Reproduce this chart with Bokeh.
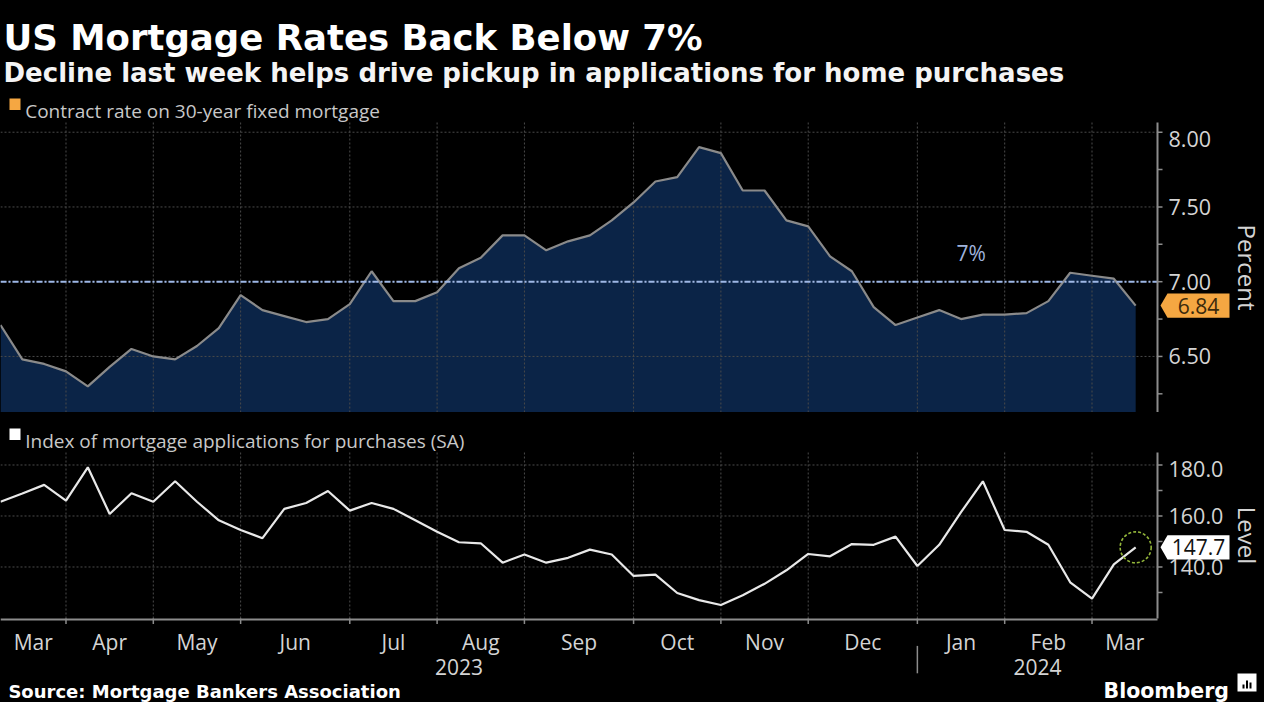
import numpy as np
import pandas as pd
from bokeh.plotting import figure
from bokeh.models import Range1d, ColumnDataSource
from bokeh.layouts import column
from bokeh.core.properties import value
from bokeh.embed import file_html
from bokeh.resources import INLINE

# ---------------- data ----------------
week_dates = pd.date_range("2023-03-17", periods=53, freq="7D")

contract_rate = [6.71, 6.48, 6.45, 6.40, 6.30, 6.43, 6.55, 6.50, 6.48, 6.57,
                 6.69, 6.91, 6.81, 6.77, 6.73, 6.75, 6.85, 7.07, 6.87, 6.87,
                 6.93, 7.09, 7.16, 7.31, 7.31, 7.21, 7.27, 7.31, 7.41, 7.53,
                 7.67, 7.70, 7.90, 7.86, 7.61, 7.61, 7.41, 7.37, 7.17, 7.07,
                 6.83, 6.71, 6.76, 6.81, 6.75, 6.78, 6.78, 6.79, 6.87, 7.06,
                 7.04, 7.02, 6.84]

purchase_index = [165.6, 168.8, 172.2, 166.0, 179.1, 160.8, 168.9, 165.6, 173.6, 165.6,
                  158.3, 154.5, 151.3, 162.8, 165.1, 169.8, 162.1, 165.1, 162.8, 158.3,
                  153.8, 149.7, 149.3, 141.7, 144.9, 141.7, 143.6, 146.8, 144.9, 136.5,
                  137.0, 129.8, 127.0, 125.1, 128.9, 133.4, 138.7, 145.1, 144.2, 149.0,
                  148.7, 151.9, 140.4, 148.7, 161.5, 173.6, 154.5, 153.8, 148.7, 134.0,
                  127.6, 141.0, 147.7]

rate_ticks = [6.5, 7.0, 7.5, 8.0]
rate_minor = [6.25, 6.75, 7.25, 7.75]
index_ticks = [140.0, 160.0, 180.0]
index_minor = [130.0, 150.0, 170.0]
threshold = 7.0
threshold_label = "7%"

title = "US Mortgage Rates Back Below 7%"
subtitle = "Decline last week helps drive pickup in applications for home purchases"
legend_rate = "Contract rate on 30-year fixed mortgage"
legend_index = "Index of mortgage applications for purchases (SA)"
rate_axis_label = "Percent"
index_axis_label = "Level"
source_text = "Source: Mortgage Bankers Association"
brand_text = "Bloomberg"

# ---------------- derived ----------------
n = len(week_dates)
xs = np.arange(n)
grid_idx = [i for i in range(1, n) if week_dates[i].month != week_dates[i - 1].month]
bounds = [0] + grid_idx + [n]
month_centers = [(a + b) / 2 for a, b in zip(bounds[:-1], bounds[1:])]
month_names = [week_dates[a].strftime("%b") for a in bounds[:-1]]
year_idx = [i for i in grid_idx if week_dates[i].year != week_dates[i - 1].year]
ybounds = [0] + year_idx + [n]
year_centers = [(a + b) / 2 for a, b in zip(ybounds[:-1], ybounds[1:])]
year_names = [str(week_dates[a].year) for a in ybounds[:-1]]

# ---------------- layout constants ----------------
W = 1264
FRAME_W = 1157                      # pixel position of the value axis
XMAX = n * W / FRAME_W
KX = XMAX / W                       # data units per pixel along x
H_HEAD = 122                        # title, subtitle, first legend
H_LEG = 36                          # legend band above the lower panel
H_TOP, H_SEP, H_BOT, H_FOOT = 290, 4, 166, 84

BG = "#000000"
GRID = "#4a4a4a"
AXIS = "#8c8c8c"
TXT = "#d4d4d4"
LEG = "#c8c8c8"
NAVY = "#0b2447"
ORANGE = "#f5a742"
REG_FONT = "Open Sans"
BOLD_FONT = "DejaVu Sans"

shared_x = Range1d(0, XMAX)


def blank(h, x_range, y_range):
    f = figure(width=W, height=h, x_range=x_range, y_range=y_range,
               x_axis_location=None, y_axis_location=None, toolbar_location=None,
               output_backend="svg", min_border_left=0, min_border_right=0,
               min_border_top=0, min_border_bottom=0, background_fill_color=BG,
               border_fill_color=BG, outline_line_color=None)
    f.xgrid.visible = False
    f.ygrid.visible = False
    return f


def grids(f, ylo, yhi, ticks):
    f.segment(x0=[0] * len(ticks), x1=[n] * len(ticks), y0=ticks, y1=ticks,
              line_color=GRID, line_dash="2 2", line_width=1)
    f.segment(x0=grid_idx, x1=grid_idx, y0=[ylo] * len(grid_idx), y1=[yhi] * len(grid_idx),
              line_color=GRID, line_dash="2 2", line_width=1)


def right_axis(f, ky, ylo, yhi, ticks, minor, fmt, label):
    f.segment(x0=[n], x1=[n], y0=[ylo], y1=[yhi], line_color=AXIS, line_width=2)
    allt = list(ticks) + list(minor)
    f.segment(x0=[n] * len(allt), x1=[n + 5 * KX] * len(allt), y0=allt, y1=allt,
              line_color=AXIS, line_width=1.5)
    label_y = [min(t, yhi - 16.5 * ky) for t in ticks]
    f.text(x=[n + 11 * KX] * len(ticks), y=label_y, text=[fmt.format(t) for t in ticks],
           text_font=value(REG_FONT), text_font_size="21.5px", text_color=TXT,
           text_align="left", text_baseline="middle")
    f.text(x=[1247 * KX], y=[(ylo + yhi) / 2], text=[label], angle=-np.pi / 2,
           text_font=value(REG_FONT), text_font_size="24px", text_color=TXT,
           text_align="center", text_baseline="middle")


def tag(f, ky, yv, text, fill, txt_color):
    hh = 12.2 * ky
    f.patch(x=[1160 * KX, 1167 * KX, 1229 * KX, 1229 * KX, 1167 * KX],
            y=[yv, yv + hh, yv + hh, yv - hh, yv - hh],
            fill_color=fill, line_color=None)
    f.text(x=[1198 * KX], y=[yv], text=[text], text_font=value(REG_FONT),
           text_font_size="21px", text_color=txt_color, text_align="center",
           text_baseline="middle")


def legend_entry(f, yconv, top_local, text, swatch):
    # top_local: pixel row (from the top of the band) of the swatch top
    f.quad(left=[9 * KX], right=[20 * KX], top=[yconv(top_local)],
           bottom=[yconv(top_local + 11.5)], fill_color=swatch, line_color=None)
    f.text(x=[24.7 * KX], y=[yconv(top_local + 12.3)], text=[text], text_font=value(REG_FONT),
           text_font_size="19px", text_color=LEG, text_baseline="alphabetic")


# ---------------- top figure: header + rate panel ----------------
Y1LO, Y1HI = 6.125, 8.065
KY1 = (Y1HI - Y1LO) / H_TOP
p1 = blank(H_HEAD + H_TOP, shared_x, Range1d(Y1LO, Y1HI + H_HEAD * KY1))


def hy(local):
    # header coordinates: pixels from the top of the page area
    return Y1HI + (H_HEAD - local) * KY1


p1.text(x=[3 * KX], y=[hy(36.5)], text=[title], text_font=value(BOLD_FONT),
        text_font_style="bold", text_font_size="35.5px", text_color="#ffffff",
        text_baseline="alphabetic")
p1.text(x=[3 * KX], y=[hy(72.4)], text=[subtitle], text_font=value(BOLD_FONT),
        text_font_style="bold", text_font_size="26px", text_color="#f4f4f4",
        text_baseline="alphabetic")
legend_entry(p1, hy, 98, legend_rate, ORANGE)

src1 = ColumnDataSource(dict(x=xs, rate=contract_rate, base=np.full(n, Y1LO)))
p1.varea(x="x", y1="base", y2="rate", source=src1, fill_color=NAVY)
grids(p1, Y1LO, Y1HI, rate_ticks)
p1.line(x="x", y="rate", source=src1, line_color="#8a8a8a", line_width=2.2)
p1.segment(x0=[0], x1=[n], y0=[threshold], y1=[threshold], line_color="#9db7e6",
           line_width=2, line_dash="6 2 2 2")
p1.text(x=[44.46], y=[7.19], text=[threshold_label], text_font=value(REG_FONT),
        text_font_size="21px", text_color="#9fb3dc", text_align="center",
        text_baseline="middle")
right_axis(p1, KY1, Y1LO, Y1HI, rate_ticks, rate_minor, "{:.2f}", rate_axis_label)
tag(p1, KY1, contract_rate[-1], f"{contract_rate[-1]:.2f}", ORANGE, "#3b2a0c")

# ---------------- separator ----------------
ps = blank(H_SEP, Range1d(0, W), Range1d(0, 1))
ps.background_fill_color = "#4d4d4d"
ps.border_fill_color = "#4d4d4d"
ps.quad(left=[624], right=[640], bottom=[0], top=[1], fill_color="#8a8a8a", line_color=None)

# ---------------- bottom figure: legend band + index panel + time axis ----------------
Y2LO, Y2HI = 119.8, 184.9
KY2 = (Y2HI - Y2LO) / H_BOT
p2 = blank(H_LEG + H_BOT + H_FOOT, shared_x,
           Range1d(Y2LO - H_FOOT * KY2, Y2HI + H_LEG * KY2))


def by(local):
    return Y2HI + (H_LEG - local) * KY2


def fy(local):
    # footer coordinates: 0 at the time axis line, growing downwards in pixels
    return Y2LO - local * KY2


legend_entry(p2, by, 12, legend_index, "#ffffff")
grids(p2, Y2LO, Y2HI, index_ticks)
src2 = ColumnDataSource(dict(x=xs, idx=purchase_index))
p2.line(x="x", y="idx", source=src2, line_color="#e8e8e8", line_width=2.2)
p2.scatter(x=[xs[-1]], y=[purchase_index[-1]], marker="circle", size=31,
           fill_color=None, line_color="#93b63a", line_dash="3 2", line_width=1.6)
right_axis(p2, KY2, Y2LO, Y2HI, index_ticks, index_minor, "{:.1f}", index_axis_label)
tag(p2, KY2, purchase_index[-1], f"{purchase_index[-1]:.1f}", "#ffffff", "#111111")

p2.segment(x0=[0], x1=[n], y0=[fy(1)], y1=[fy(1)], line_color=AXIS, line_width=2)
p2.segment(x0=grid_idx, x1=grid_idx, y0=[fy(0)] * len(grid_idx), y1=[fy(5.5)] * len(grid_idx),
           line_color=AXIS, line_width=1.5)
p2.text(x=month_centers, y=[fy(23.8)] * len(month_centers), text=month_names,
        text_font=value(REG_FONT), text_font_size="21px", text_color=TXT,
        text_align="center", text_baseline="alphabetic")
p2.text(x=year_centers, y=[fy(48.9)] * len(year_centers), text=year_names,
        text_font=value(REG_FONT), text_font_size="21px", text_color=TXT,
        text_align="center", text_baseline="alphabetic")
p2.segment(x0=year_idx, x1=year_idx, y0=[fy(27.4)] * len(year_idx),
           y1=[fy(54.8)] * len(year_idx), line_color="#8c8c8c", line_width=1.5)
p2.text(x=[7.9 * KX], y=[fy(72.5)], text=[source_text],
        text_font=value(BOLD_FONT), text_font_style="bold", text_font_size="18px",
        text_color="#ffffff", text_baseline="alphabetic")
p2.text(x=[1103 * KX], y=[fy(72)], text=[brand_text],
        text_font=value(BOLD_FONT), text_font_style="bold", text_font_size="20.5px",
        text_color="#ffffff", text_baseline="alphabetic")
p2.quad(left=[1237 * KX], right=[1256 * KX], top=[fy(55)], bottom=[fy(73)],
        fill_color="#ffffff", line_color=None)
p2.quad(left=[1242 * KX, 1245.5 * KX, 1249 * KX], right=[1244 * KX, 1247.5 * KX, 1251 * KX],
        top=[fy(66), fy(62), fy(64)], bottom=[fy(70)] * 3, fill_color="#000000",
        line_color=None)

layout = column(p1, ps, p2, spacing=0)
layout.styles = {"background-color": BG}

open("out.html", "w").write(file_html(layout, INLINE))
